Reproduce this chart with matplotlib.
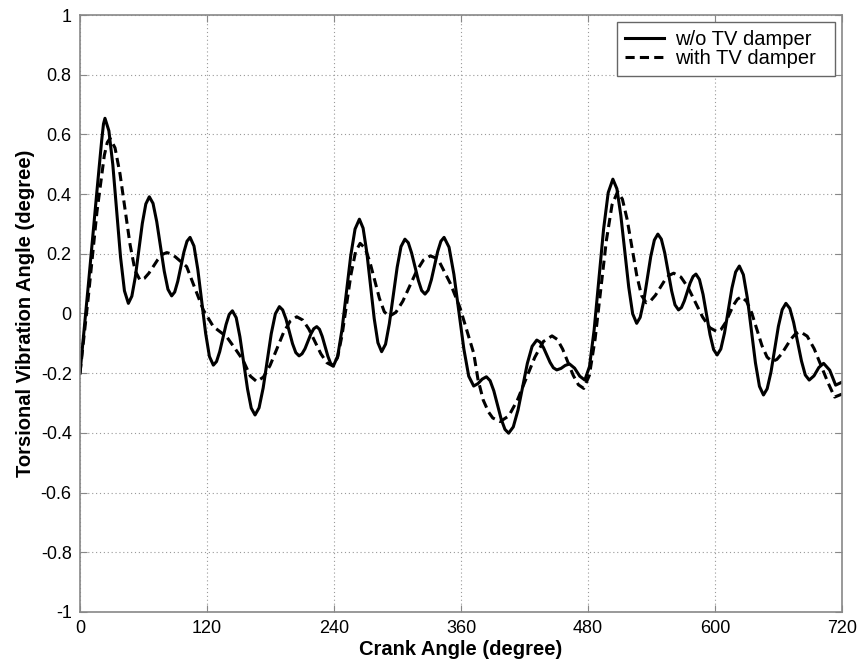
import matplotlib
matplotlib.use('Agg')
import matplotlib.pyplot as plt
from matplotlib.ticker import FuncFormatter

plt.rcParams['font.family'] = ['Liberation Sans', 'DejaVu Sans']
plt.rcParams['axes.unicode_minus'] = False

# w/o TV damper (crank angle, torsional angle)
crank_wo = [0, 8, 16, 20.5, 22.2, 23.6, 27.3, 31.0, 38.3, 42.0, 45.7, 49.0, 52.3, 58.9,
            62.2, 65.5, 69.0, 72.5, 79.6, 83.1, 86.6, 89.5, 92.4, 98.2, 101.1, 104,
            107.7, 111.3, 118.7, 122.3, 126, 129, 132, 138, 141, 144, 147.6, 151.1,
            158.3, 161.8, 165.4, 169.2, 173.1, 180.7, 184.6, 188.4, 191.5, 194.6, 200.8,
            203.9, 207, 209.8, 212.6, 218.1, 220.9, 223.7, 226.3, 228.9, 234.2, 236.8,
            239.4, 243.5, 247.6, 255.8, 259.9, 264, 267.5, 271, 278, 281.5, 285, 288.7,
            292.3, 299.7, 303.3, 307, 310.2, 313.3, 319.7, 322.8, 326, 329, 332, 338,
            341, 344, 348.7, 353.3, 362.7, 367.3, 372, 376, 380, 384, 387.5, 391, 398,
            401.5, 405, 409.4, 413.9, 422.7, 427.2, 431.6, 434.8, 437.9, 444.2, 447.3,
            450.5, 454.5, 458.5, 462.5, 467.3, 472.2, 477, 481.4, 485.8, 494.7, 499.1,
            503.5, 507.3, 511, 518.5, 522.2, 526, 529.3, 532.7, 539.3, 542.7, 546,
            549.3, 552.5, 559, 562.2, 565.5, 568.3, 571, 576.5, 579.3, 582, 585.3,
            588.7, 595.3, 598.7, 602, 605.5, 609, 616, 619.5, 623, 626.8, 630.6, 638.2,
            642, 645.8, 649.3, 652.9, 659.9, 663.5, 667, 670.7, 674.3, 681.7, 685.3,
            689, 693.5, 698.1, 702.6, 708.4, 714, 720]
angle_wo = [-0.20, 0.10, 0.41, 0.58, 0.635, 0.654, 0.612, 0.499, 0.189, 0.076, 0.034,
            0.058, 0.123, 0.302, 0.367, 0.391, 0.369, 0.308, 0.142, 0.081, 0.059, 0.072,
            0.108, 0.206, 0.242, 0.255, 0.226, 0.148, -0.066, -0.144, -0.173, -0.161,
            -0.128, -0.037, -0.003, 0.009, -0.014, -0.078, -0.253, -0.317, -0.34,
            -0.316, -0.249, -0.068, -0.001, 0.023, 0.012, -0.018, -0.101, -0.131,
            -0.142, -0.135, -0.118, -0.069, -0.051, -0.044, -0.053, -0.077, -0.143,
            -0.167, -0.176, -0.143, -0.053, 0.193, 0.283, 0.316, 0.286, 0.205, -0.017,
            -0.098, -0.128, -0.103, -0.034, 0.155, 0.224, 0.249, 0.237, 0.203, 0.111,
            0.077, 0.065, 0.078, 0.113, 0.208, 0.242, 0.255, 0.222, 0.131, -0.119,
            -0.21, -0.243, -0.235, -0.22, -0.212, -0.225, -0.259, -0.354, -0.388,
            -0.401, -0.38, -0.323, -0.167, -0.11, -0.089, -0.096, -0.114, -0.164,
            -0.182, -0.189, -0.184, -0.174, -0.169, -0.183, -0.21, -0.223, -0.178,
            -0.055, 0.282, 0.405, 0.45, 0.418, 0.329, 0.088, -0.001, -0.033, -0.013,
            0.042, 0.191, 0.246, 0.266, 0.249, 0.203, 0.076, 0.029, 0.012, 0.02, 0.042,
            0.102, 0.124, 0.132, 0.114, 0.064, -0.071, -0.121, -0.139, -0.119, -0.065,
            0.085, 0.139, 0.159, 0.13, 0.051, -0.165, -0.244, -0.273, -0.252, -0.196,
            -0.043, 0.013, 0.034, 0.017, -0.03, -0.159, -0.206, -0.223, -0.209, -0.181,
            -0.167, -0.19, -0.24, -0.23]

# with TV damper
crank_with = [0, 8, 16, 23, 25.8, 28.4, 33.1, 37.8, 47.3, 52, 56.7, 60.9, 65.1, 73.6,
              77.8, 82, 86, 90, 100.8, 108, 116.5, 126, 138.6, 147, 154, 161, 167,
              173.3, 179.6, 192.2, 198.5, 204.8, 210.5, 216.2, 227.6, 233.3, 239, 243.3,
              247.6, 256.1, 260.4, 264.7, 269.3, 273.8, 282.9, 287.5, 292, 298.5, 305,
              318, 324.5, 331, 335.5, 340, 350, 359, 372, 376, 381, 386, 390, 397, 405.2,
              413.3, 429.7, 437.8, 446, 451, 456, 466, 471, 476, 481.3, 486.7, 497.3,
              502.7, 508, 512.5, 517, 526, 530.5, 535, 539.3, 543.7, 552.3, 556.7, 561,
              567.8, 574.7, 588.3, 595.2, 602, 605.8, 609.7, 617.3, 621.2, 625, 629.8,
              634.7, 644.3, 649.2, 654, 658.4, 662.8, 671.7, 676.1, 680.5, 687.1, 693.7,
              706.8, 713, 720]
angle_with = [-0.20, 0.06, 0.34, 0.53, 0.573, 0.587, 0.555, 0.468, 0.231, 0.144, 0.112,
              0.118, 0.135, 0.181, 0.198, 0.204, 0.2, 0.19, 0.157, 0.09, 0.012, -0.044,
              -0.078, -0.12, -0.156, -0.21, -0.228, -0.213, -0.174, -0.065, -0.026,
              -0.011, -0.022, -0.052, -0.135, -0.165, -0.176, -0.148, -0.073, 0.132,
              0.207, 0.235, 0.219, 0.174, 0.051, 0.006, -0.01, 0.004, 0.041, 0.142,
              0.179, 0.193, 0.187, 0.17, 0.10, 0.02, -0.133, -0.22, -0.29, -0.33, -0.35,
              -0.362, -0.343, -0.29, -0.147, -0.094, -0.075, -0.087, -0.119, -0.207,
              -0.239, -0.251, -0.207, -0.086, 0.243, 0.364, 0.408, 0.383, 0.315, 0.129,
              0.061, 0.036, 0.043, 0.061, 0.11, 0.128, 0.135, 0.122, 0.086, -0.012,
              -0.048, -0.061, -0.053, -0.032, 0.027, 0.048, 0.056, 0.041, 0.002, -0.107,
              -0.146, -0.161, -0.154, -0.136, -0.086, -0.068, -0.061, -0.076, -0.118,
              -0.232, -0.28, -0.27]

x_ticks = [0, 120, 240, 360, 480, 600, 720]
y_ticks = [-1, -0.8, -0.6, -0.4, -0.2, 0, 0.2, 0.4, 0.6, 0.8, 1]

fig = plt.figure(figsize=(8.62, 6.70), dpi=100)
ax = fig.add_axes([0.0928, 0.0866, 0.884, 0.891])

ax.plot(crank_wo, angle_wo, color='black', lw=2.2, solid_joinstyle='round',
        label='w/o TV damper  ')
ax.plot(crank_with, angle_with, color='black', lw=2.2, dashes=(3.0, 1.7),
        dash_joinstyle='round', label='with TV damper  ')

ax.set_xlim(0, 720)
ax.set_ylim(-1, 1)
ax.set_xticks(x_ticks)
ax.set_yticks(y_ticks)
ax.yaxis.set_major_formatter(FuncFormatter(lambda v, p: ('%g' % round(v, 2))))
ax.grid(True, linestyle=(0, (1, 2.5)), color='#999999', lw=0.8)
ax.tick_params(direction='in', top=True, right=True, length=5, color='#888888',
               labelsize=13, pad=6)
for s in ax.spines.values():
    s.set_color('#888888')
    s.set_linewidth(1.2)

ax.set_xlabel('Crank Angle (degree)', fontsize=14.5, fontweight='bold', labelpad=2)
ax.set_ylabel('Torsional Vibration Angle (degree)', fontsize=14.5, fontweight='bold',
              labelpad=4)

leg = ax.legend(loc='upper right', fontsize=14.5, fancybox=False, framealpha=1,
                edgecolor='#666666', borderaxespad=0.35, handlelength=1.9,
                handletextpad=0.55, labelspacing=0.0, borderpad=0.4)
leg.get_frame().set_linewidth(1.0)

fig.savefig('out.png', dpi=100)
